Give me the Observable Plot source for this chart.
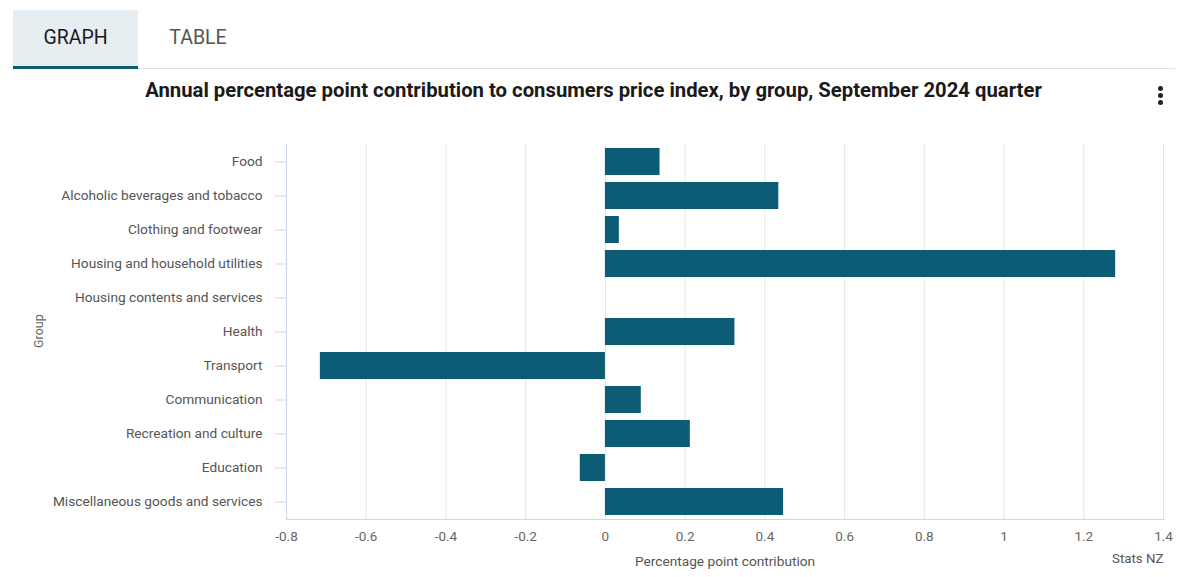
<!DOCTYPE html>
<html>
<head>
<meta charset="utf-8">
<script src="https://cdn.jsdelivr.net/npm/d3@7"></script>
<script src="https://cdn.jsdelivr.net/npm/@observablehq/plot@0.6"></script>
<style>
  html, body { margin: 0; padding: 0; background: #fff; }
  body { width: 1187px; height: 577px; overflow: hidden; position: relative; font-family: Roboto, "Noto Sans", sans-serif; }
  #header { position: relative; height: 130px; }
  .tab { position: absolute; top: 10px; height: 56px; font-size: 19.5px; line-height: 56px; text-align: center; }
  #tab-graph { left: 13px; width: 125px; background: #e6eef2; color: #1a1a1a; border-bottom: 3px solid #0b5c74; }
  #tab-table { left: 138px; width: 120px; color: #555; }
  #tabline { position: absolute; left: 138px; top: 68px; width: 1037px; height: 1px; background: #e2e2e2; }
  #title { position: absolute; left: 0; width: 1187px; top: 78px; text-align: center; font-weight: 700; font-size: 20.3px; color: #1a1a1a; }
  .dot { position: absolute; left: 1158px; width: 5px; height: 5px; border-radius: 50%; background: #222; }
  #chart { position: absolute; left: 0; top: 130px; }
</style>
</head>
<body>
<div id="header">
  <div class="tab" id="tab-graph">GRAPH</div>
  <div class="tab" id="tab-table">TABLE</div>
  <div id="tabline"></div>
  <div id="title">Annual percentage point contribution to consumers price index, by group, September 2024 quarter</div>
  <div class="dot" style="top:86px"></div>
  <div class="dot" style="top:93px"></div>
  <div class="dot" style="top:100px"></div>
</div>
<div id="chart"></div>
<script>
const groups = [
  "Food",
  "Alcoholic beverages and tobacco",
  "Clothing and footwear",
  "Housing and household utilities",
  "Housing contents and services",
  "Health",
  "Transport",
  "Communication",
  "Recreation and culture",
  "Education",
  "Miscellaneous goods and services"
];
const values = [0.137, 0.435, 0.035, 1.28, 0.0, 0.325, -0.715, 0.09, 0.213, -0.063, 0.447];
const xTicks = [-0.8, -0.6, -0.4, -0.2, 0, 0.2, 0.4, 0.6, 0.8, 1, 1.2, 1.4];
const xTitle = "Percentage point contribution";
const yTitle = "Group";
const credit = "Stats NZ";

const data = groups.map((g, i) => ({group: g, value: values[i]}));
const fmt = d => String(+(+d).toFixed(1));

const chart = Plot.plot({
  width: 1187,
  height: 447,
  marginLeft: 286,
  marginRight: 24,
  marginTop: 14,
  marginBottom: 58,
  style: {fontFamily: "Roboto, 'Noto Sans', sans-serif", fontSize: "13px", background: "transparent", overflow: "visible"},
  x: {domain: [-0.8, 1.4], axis: null},
  y: {domain: groups, paddingInner: 0.2, paddingOuter: 0.1, axis: null},
  marks: [
    Plot.gridX(xTicks, {stroke: "#e6e6e6", strokeOpacity: 1}),
    Plot.barX(data, {x: "value", y: "group", fill: "#0b5c74"}),
    Plot.ruleX([-0.8], {stroke: "#ccd6eb", strokeWidth: 1}),
    Plot.axisX(xTicks, {anchor: "bottom", tickSize: 0, tickPadding: 12, tickFormat: fmt, fill: "#666", label: null, fontSize: 13.5}),
    Plot.axisY({anchor: "left", tickSize: 11, tickPadding: 13, stroke: "#ccd6eb", fill: "#555", label: null, fontSize: 13.7}),
    Plot.frame({anchor: "bottom", stroke: "#ccd6eb"}),
    Plot.text([xTitle], {text: d => d, frameAnchor: "bottom", dy: 46, fill: "#555", fontSize: 13.7}),
    Plot.text([credit], {text: d => d, frameAnchor: "bottom-right", dy: 43, textAnchor: "end", fill: "#555", fontSize: 13.3}),
    Plot.text([yTitle], {text: d => d, frameAnchor: "left", dx: -248, dy: 16, rotate: -90, fill: "#666", fontSize: 12.5})
  ]
});
document.getElementById("chart").appendChild(chart);
</script>
</body>
</html>
